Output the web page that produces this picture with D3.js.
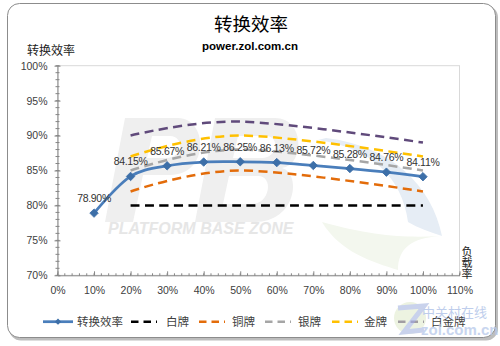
<!DOCTYPE html>
<html><head><meta charset="utf-8">
<script src="https://cdn.jsdelivr.net/npm/d3@7"></script>
<style>
html,body{margin:0;padding:0;background:#fff;}
svg{display:block;}
text{font-family:"Liberation Sans",Arial,sans-serif;}
.cjk{font-family:"Noto Sans CJK SC","Noto Sans",sans-serif;}
</style>
</head><body>
<svg id="c" width="500" height="346"></svg>
<script>
// ---- data ----
const loads = [10, 20, 30, 40, 50, 60, 70, 80, 90, 100];
const efficiency = [78.90, 84.15, 85.67, 86.21, 86.25, 86.13, 85.72, 85.28, 84.76, 84.11];
const stdLoads = [20, 50, 100];
const whiteStd = [80, 80, 80];
const bronzeStd = [82, 85, 82];
const silverStd = [85, 88, 85];
const goldStd = [87, 90, 87];
const platinumStd = [90, 92, 89];
const xTicks = [0, 10, 20, 30, 40, 50, 60, 70, 80, 90, 100, 110];
const yTicks = [70, 75, 80, 85, 90, 95, 100];
const seriesNames = ["转换效率", "白牌", "铜牌", "银牌", "金牌", "白金牌"];
const title = "转换效率";
const subtitle = "power.zol.com.cn";
const yTitle = "转换效率";
const xTitle = "负载率";

const svg = d3.select("#c");
const x = d3.scaleLinear().domain([0, 110]).range([57.5, 459.5]);
const y = d3.scaleLinear().domain([70, 100]).range([275.3, 65.7]);

// outer frame with shadow
svg.append("rect").attr("x", 9).attr("y", 5.5).attr("width", 489).attr("height", 335)
  .attr("rx", 12).attr("fill", "#bdbdbd");
svg.append("rect").attr("x", 7.5).attr("y", 3.5).attr("width", 488).attr("height", 334)
  .attr("rx", 12).attr("fill", "#fff").attr("stroke", "#8c8c8c").attr("stroke-width", 1);

// titles
svg.append("text").attr("class", "cjk").attr("x", 251).attr("y", 31).attr("text-anchor", "middle")
  .attr("font-size", 18.5).attr("fill", "#000").text(title);
svg.append("text").attr("x", 250).attr("y", 50).attr("text-anchor", "middle")
  .attr("font-size", 11.5).attr("font-weight", "bold").attr("fill", "#000").text(subtitle);
svg.append("text").attr("class", "cjk").attr("x", 51).attr("y", 55).attr("text-anchor", "middle")
  .attr("font-size", 12).attr("fill", "#222").text(yTitle);

// plot area
svg.append("rect").attr("x", x(0)).attr("y", y(100)).attr("width", x(110) - x(0)).attr("height", y(70) - y(100))
  .attr("fill", "#fff").attr("stroke", "#d9d9d9").attr("stroke-width", 1);

// watermark (image-like shapes)
const wm = svg.append("g");
wm.append("path").attr("d", "M318,140 C372,148 402,178 408,222 C418,228 430,232 442,236 C432,186 392,146 326,138 Z").attr("fill", "#e6edf5");
wm.append("path").attr("d", "M322,222 C340,252 372,262 398,270 C398,248 412,238 440,236 C405,238 372,236 322,222 Z").attr("fill", "#f3f7ee");
wm.append("path").attr("fill-rule", "evenodd").attr("fill", "#efefef")
  .attr("d", "M125,118 L178,118 C208,118 210,175 170,175 L143,175 L133,222 L105,222 Z M152,136 L170,136 C184,136 184,158 166,158 L147,158 Z");
wm.append("path").attr("fill-rule", "evenodd").attr("fill", "#efefef")
  .attr("d", "M215,118 L275,118 C305,118 305,165 282,168 C302,174 296,222 255,222 L195,222 Z M238,136 L266,136 C280,136 278,158 262,158 L233,158 Z M229,176 L258,176 C274,176 270,204 252,204 L223,204 Z");
wm.append("text").attr("x", 108).attr("y", 234).attr("font-size", 16).attr("font-weight", "bold")
  .attr("font-style", "italic").attr("fill", "#e6e6e6").text("PLATFORM BASE ZONE");

// axes
const xAxis = d3.axisBottom(x).tickValues(xTicks).tickFormat(d => d + "%").tickSize(-4).tickSizeOuter(0);
const gx = svg.append("g").attr("transform", `translate(0,${y(70)})`).call(xAxis);
gx.select(".domain").attr("stroke", "#868686");
gx.selectAll(".tick line").attr("stroke", "#868686");
gx.selectAll(".tick text").attr("font-size", 10.5).attr("fill", "#404040").attr("dy", "0.71em")
  .attr("font-family", "Liberation Sans, Arial, sans-serif").attr("y", 11);
// minor x ticks
svg.append("g").selectAll("line").data(d3.range(0, 111, 2)).join("line")
  .attr("x1", d => x(d)).attr("x2", d => x(d)).attr("y1", y(70) - 2).attr("y2", y(70) + 0.5)
  .attr("stroke", "#868686");

const yAxis = d3.axisLeft(y).tickValues(yTicks).tickFormat(d => d + "%").tickSize(-4).tickSizeOuter(0);
const gy = svg.append("g").attr("transform", `translate(${x(0)},0)`).call(yAxis);
gy.select(".domain").attr("stroke", "#868686");
gy.selectAll(".tick line").attr("stroke", "#868686").attr("x1", -3).attr("x2", 3);
gy.selectAll(".tick text").attr("font-size", 10.5).attr("fill", "#404040")
  .attr("font-family", "Liberation Sans, Arial, sans-serif").attr("x", -10);
svg.append("g").selectAll("line").data(d3.range(70, 100.1, 1)).join("line")
  .attr("x1", x(0) - 2).attr("x2", x(0) + 2).attr("y1", d => y(d)).attr("y2", d => y(d))
  .attr("stroke", "#868686");

// x title vertical (single text, vertical writing)
svg.append("text").attr("class", "cjk")
  .attr("x", 467).attr("y", 246.5)
  .style("writing-mode", "vertical-rl").style("text-orientation", "upright")
  .attr("font-size", 11).attr("fill", "#222").text(xTitle);

// standard lines
const stdSeries = [
  {vals: whiteStd, color: "#000000"},
  {vals: bronzeStd, color: "#e36c0a"},
  {vals: silverStd, color: "#a6a6a6"},
  {vals: goldStd, color: "#ffc000"},
  {vals: platinumStd, color: "#604a7b"}
];
const smooth = d3.line().x(d => x(d[0])).y(d => y(d[1])).curve(d3.curveCatmullRom.alpha(0));
stdSeries.forEach(s => {
  svg.append("path").datum(stdLoads.map((l, i) => [l, s.vals[i]]))
    .attr("d", smooth).attr("fill", "none").attr("stroke", s.color)
    .attr("stroke-width", 2.5).attr("stroke-dasharray", "9,5.5");
});

// main series
const mainData = loads.map((l, i) => [l, efficiency[i]]);
svg.append("path").datum(mainData).attr("d", smooth).attr("fill", "none")
  .attr("stroke", "#4a7ebb").attr("stroke-width", 2.75);
svg.append("g").selectAll("path").data(mainData).join("path")
  .attr("d", d3.symbol().type(d3.symbolSquare).size(36))
  .attr("transform", d => `translate(${x(d[0])},${y(d[1])}) rotate(45)`)
  .attr("fill", "#3d6fa8").attr("stroke", "#3d6fa8").attr("stroke-width", 0.8);
svg.append("g").selectAll("text").data(mainData).join("text")
  .attr("x", d => x(d[0])).attr("y", d => y(d[1]) - 11).attr("text-anchor", "middle")
  .attr("font-size", 10.5).attr("letter-spacing", -0.3).attr("fill", "#333")
  .text(d => d[1].toFixed(2) + "%");

// legend
const legY = 321.7;
const lg = svg.append("g");
lg.append("line").attr("x1", 43).attr("x2", 73).attr("y1", legY).attr("y2", legY)
  .attr("stroke", "#4a7ebb").attr("stroke-width", 2.75);
lg.append("path").attr("d", d3.symbol().type(d3.symbolSquare).size(20))
  .attr("transform", `translate(58,${legY}) rotate(45)`).attr("fill", "#3d6fa8");
lg.append("text").attr("class", "cjk").attr("x", 77).attr("y", legY + 4.5).attr("font-size", 11.5)
  .attr("fill", "#404040").text(seriesNames[0]);
const legX = [131, 199, 265, 332, 398];
const legTextX = [166, 232, 298, 364, 431];
stdSeries.forEach((s, i) => {
  lg.append("line").attr("x1", legX[i]).attr("x2", legX[i] + 26).attr("y1", legY).attr("y2", legY)
    .attr("stroke", s.color).attr("stroke-width", 2.5).attr("stroke-dasharray", "7.5,5");
  lg.append("text").attr("class", "cjk").attr("x", legTextX[i]).attr("y", legY + 4.5).attr("font-size", 11.5)
    .attr("fill", "#404040").text(seriesNames[i + 1]);
});

// zol watermark logo
const zl = svg.append("g").attr("opacity", 0.75);
zl.append("circle").attr("cx", 410).attr("cy", 318).attr("r", 16).attr("fill", "#dde8c8").attr("opacity", 0.7);
zl.append("path").attr("d", "M398,308 L424,306 L404,332 L424,330").attr("fill", "none")
  .attr("stroke", "#b8c4e6").attr("stroke-width", 5);
zl.append("text").attr("class", "cjk").attr("x", 422).attr("y", 317).attr("font-size", 13)
  .attr("fill", "#a9bde6").text("中关村在线");
zl.append("text").attr("x", 421).attr("y", 335).attr("font-size", 15).attr("font-weight", "bold")
  .attr("fill", "#b6c8ea").text("zol.com.cn");
</script>
</body></html>
